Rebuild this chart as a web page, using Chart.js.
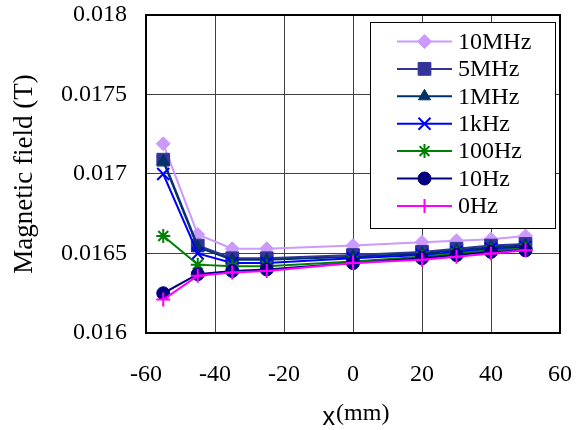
<!DOCTYPE html>
<html><head><meta charset="utf-8">
<script src="https://cdn.jsdelivr.net/npm/chart.js@4"></script>
<style>html,body{margin:0;padding:0;background:#fff}#wrap{width:580px;height:430px;position:relative}</style>
</head><body><div id="wrap"><canvas id="c" width="580" height="430"></canvas></div>
<script>
const xPositions = [-55, -45, -35, -25, 0, 20, 30, 40, 50];
const seriesNames = ['10MHz', '5MHz', '1MHz', '1kHz', '100Hz', '10Hz', '0Hz'];
const field10MHz = [0.01719, 0.01662, 0.01653, 0.01653, 0.01655, 0.01657, 0.01658, 0.01659, 0.01661];
const field5MHz  = [0.01709, 0.01655, 0.01647, 0.01647, 0.01649, 0.01651, 0.01653, 0.01655, 0.01656];
const field1MHz  = [0.01708, 0.01654, 0.01646, 0.01646, 0.01648, 0.01650, 0.01652, 0.01654, 0.01655];
const field1kHz  = [0.01700, 0.01650, 0.01644, 0.01644, 0.01647, 0.01649, 0.01651, 0.01653, 0.01654];
const field100Hz = [0.01661, 0.01643, 0.01642, 0.01642, 0.01645, 0.01648, 0.01650, 0.01652, 0.01653];
const field10Hz  = [0.01625, 0.01637, 0.01639, 0.01640, 0.01644, 0.01647, 0.01649, 0.01651, 0.01652];
const field0Hz   = [0.01621, 0.01636, 0.01638, 0.01639, 0.01644, 0.01646, 0.01648, 0.01650, 0.01652];
const xTicks = [-60, -40, -20, 0, 20, 40, 60];
const yTicks = [0.016, 0.0165, 0.017, 0.0175, 0.018];
const yTickLabels = ['0.016', '0.0165', '0.017', '0.0175', '0.018'];

const seriesValues = [field10MHz, field5MHz, field1MHz, field1kHz, field100Hz, field10Hz, field0Hz];
const styles = [
  {color: '#CC99FF', pointStyle: 'rectRot', r: 7, bw: 1},
  {color: '#333399', pointStyle: 'rect', r: 9, bw: 1},
  {color: '#003366', pointStyle: 'triangle', r: 7, bw: 1},
  {color: '#0000FF', pointStyle: 'crossRot', r: 8.5, bw: 2},
  {color: '#008000', pointStyle: 'star', r: 7, bw: 2},
  {color: '#000080', pointStyle: 'circle', r: 6.5, bw: 1},
  {color: '#FF00FF', pointStyle: 'cross', r: 7, bw: 2}
];

const datasets = seriesNames.map((name, i) => ({
  label: name,
  data: xPositions.map((x, j) => ({x: x, y: seriesValues[i][j]})),
  borderColor: styles[i].color,
  backgroundColor: styles[i].color,
  pointBackgroundColor: styles[i].color,
  pointBorderColor: styles[i].color,
  pointStyle: styles[i].pointStyle,
  pointRadius: styles[i].r,
  pointBorderWidth: styles[i].bw,
  borderWidth: 2,
  tension: 0,
  order: seriesNames.length - i
}));

const serif = '"Liberation Serif", "Times New Roman", serif';
const sans = '"Liberation Sans", Arial, sans-serif';

const framePlugin = {
  id: 'framePlugin',
  afterDraw(chart) {
    const ctx = chart.ctx, a = chart.chartArea;
    ctx.save();
    ctx.strokeStyle = '#000';
    ctx.lineWidth = 2;
    ctx.strokeRect(a.left, a.top, a.right - a.left, a.bottom - a.top);
    // legend box
    const lx = 370, ly = 22, lw = 185, lh = 206;
    ctx.fillStyle = '#fff';
    ctx.fillRect(lx, ly, lw, lh);
    ctx.lineWidth = 1;
    ctx.strokeStyle = '#000';
    ctx.strokeRect(lx + 0.5, ly + 0.5, lw, lh);
    chart.data.datasets.forEach((ds, i) => {
      const y = 41.5 + i * 27.4;
      ctx.strokeStyle = ds.borderColor;
      ctx.lineWidth = 2;
      ctx.beginPath(); ctx.moveTo(397, y); ctx.lineTo(452, y); ctx.stroke();
      if (Chart.helpers && Chart.helpers.drawPoint) {
        ctx.fillStyle = ds.pointBackgroundColor;
        ctx.strokeStyle = ds.pointBorderColor;
        ctx.lineWidth = ds.pointBorderWidth;
        Chart.helpers.drawPoint(ctx, {pointStyle: ds.pointStyle, radius: ds.pointRadius, borderWidth: ds.pointBorderWidth, rotation: 0}, 424.5, y);
      }
      ctx.fillStyle = '#000';
      ctx.font = '24px ' + serif;
      ctx.textAlign = 'left';
      ctx.textBaseline = 'middle';
      ctx.fillText(ds.label, 458, y + 1);
    });
    // x axis title: x(mm)
    ctx.fillStyle = '#000';
    ctx.textBaseline = 'alphabetic';
    ctx.textAlign = 'left';
    ctx.font = '25px ' + sans;
    const wx = ctx.measureText('x').width;
    ctx.font = '24px ' + serif;
    const wm = ctx.measureText('(mm)').width;
    const start = 355.5 - (wx + wm) / 2;
    ctx.font = '25px ' + sans;
    ctx.fillText('x', start, 425);
    ctx.font = '24px ' + serif;
    ctx.fillText('(mm)', start + wx + 1, 420);
    ctx.restore();
  }
};

function draw() {
  new Chart(document.getElementById('c'), {
    type: 'line',
    data: {datasets: datasets},
    options: {
      responsive: false,
      animation: false,
      layout: {padding: {top: 15, right: 20, bottom: 0, left: 0}},
      plugins: {legend: {display: false}, tooltip: {enabled: false}},
      scales: {
        x: {
          type: 'linear', min: -60, max: 60,
          afterBuildTicks: s => { s.ticks = xTicks.map(v => ({value: v})); },
          afterFit: s => { s.height = 97; s.paddingLeft = 0; s.paddingRight = 0; },
          ticks: {font: {family: serif, size: 24}, color: '#000', padding: 27, maxRotation: 0, autoSkip: false},
          grid: {color: '#404040', lineWidth: 1, drawTicks: false},
          border: {display: false}
        },
        y: {
          type: 'linear', min: 0.016, max: 0.018,
          afterBuildTicks: s => { s.ticks = yTicks.map(v => ({value: v})); },
          afterFit: s => { s.width = 146; s.paddingTop = 0; s.paddingBottom = 0; },
          ticks: {font: {family: serif, size: 24}, color: '#000', padding: 19, autoSkip: false,
            callback: (v, i) => yTickLabels[i]},
          grid: {color: '#404040', lineWidth: 1, drawTicks: false},
          border: {display: false},
          title: {display: true, text: 'Magnetic field (T)', color: '#000',
            font: {family: serif, size: 27}, padding: {top: 9, bottom: 0}}
        }
      }
    },
    plugins: [framePlugin]
  });
}
const loads = [document.fonts.load('24px "Liberation Serif"'), document.fonts.load('25px "Liberation Sans"')];
Promise.all(loads).then(draw, draw);
</script></body></html>
